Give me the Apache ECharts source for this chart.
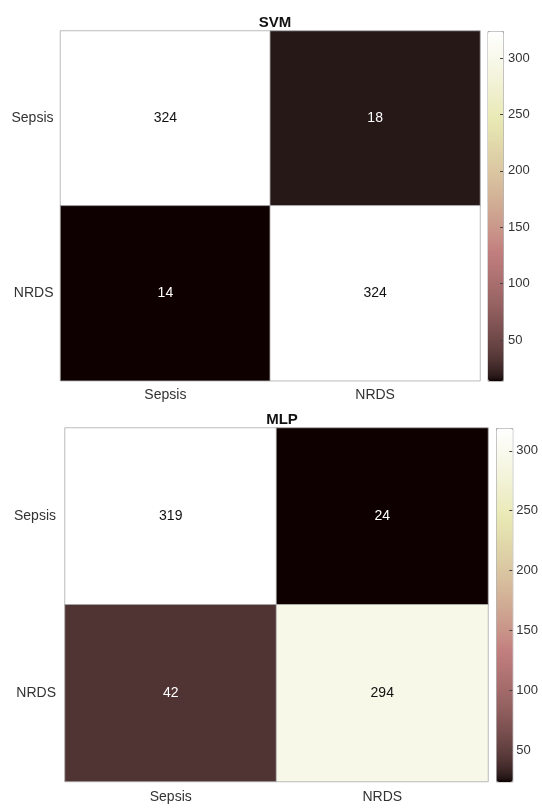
<!DOCTYPE html>
<html>
<head>
<meta charset="utf-8">
<script src="https://cdn.jsdelivr.net/npm/echarts@6/dist/echarts.min.js"></script>
<style>
html,body{margin:0;padding:0;background:#fff;}
#main{width:542px;height:808px;}
</style>
</head>
<body>
<div id="main"></div>
<script>
// ---- data ----
const categories = ['Sepsis', 'NRDS'];
const svmTitle = 'SVM';
const mlpTitle = 'MLP';
// rows = true class (Sepsis, NRDS), cols = predicted class (Sepsis, NRDS)
const svmRow1 = [324, 18];
const svmRow2 = [14, 324];
const mlpRow1 = [319, 24];
const mlpRow2 = [42, 294];
const svmRange = [14, 324];
const mlpRange = [24, 319];
const colorbarTicks = [50, 100, 150, 200, 250, 300];

// ---- MATLAB "pink" colormap ----
function pinkMap(m) {
  const n = Math.floor(3 / 8 * m);
  const out = [];
  for (let i = 0; i < m; i++) {
    const gray = i / (m - 1);
    const hr = i < n ? (i + 1) / n : 1;
    const hg = i < n ? 0 : (i < 2 * n ? (i - n + 1) / n : 1);
    const hb = i < 2 * n ? 0 : (i - 2 * n + 1) / (m - 2 * n);
    const f = v => Math.round(255 * Math.sqrt((2 * gray + v) / 3));
    out.push('rgb(' + f(hr) + ',' + f(hg) + ',' + f(hb) + ')');
  }
  return out;
}
const pink = pinkMap(256);

const FONT = 'Liberation Sans, Arial, Helvetica, sans-serif';

function buildData(rows, range) {
  const mid = (range[0] + range[1]) / 2;
  const data = [];
  rows.forEach((row, r) => {
    row.forEach((v, c) => {
      data.push({
        value: [c, r, v],
        label: { color: v < mid ? '#ffffff' : '#111111' }
      });
    });
  });
  return data;
}

const svmData = buildData([svmRow1, svmRow2], svmRange);
const mlpData = buildData([mlpRow1, mlpRow2], mlpRange);

const grids = [
  { left: 60.5, top: 31, width: 419.5, height: 349.7 },   // SVM heatmap
  { left: 65, top: 428, width: 423, height: 353.5 },      // MLP heatmap
  { left: 487.5, top: 31, width: 15.5, height: 349.7 },   // SVM colorbar
  { left: 496, top: 428, width: 16.3, height: 353.5 }     // MLP colorbar
];

function catX(gi, margin) {
  return {
    type: 'category', gridIndex: gi, data: categories,
    axisLine: { show: false }, axisTick: { show: false }, splitLine: { show: false },
    axisLabel: { fontFamily: FONT, fontSize: 14, color: '#333', margin: margin }
  };
}
function catY(gi, margin) {
  return {
    type: 'category', gridIndex: gi, data: categories, inverse: true,
    axisLine: { show: false }, axisTick: { show: false }, splitLine: { show: false },
    axisLabel: { fontFamily: FONT, fontSize: 14, color: '#333', margin: margin }
  };
}
function cbX(gi) {
  return { type: 'value', gridIndex: gi, show: false };
}
function cbY(gi, range, margin) {
  return {
    type: 'value', gridIndex: gi, min: range[0], max: range[1], position: 'right', z: 20,
    axisLine: { show: false, onZero: false }, splitLine: { show: false },
    axisTick: { show: true, inside: true, length: 3, customValues: colorbarTicks,
                lineStyle: { color: '#444', width: 1 } },
    axisLabel: { show: true, customValues: colorbarTicks, fontFamily: FONT, fontSize: 13,
                 color: '#333', margin: margin }
  };
}

const option = {
  backgroundColor: '#ffffff',
  animation: false,
  title: [
    { text: svmTitle, left: 270, top: 10, textAlign: 'center',
      textStyle: { fontFamily: FONT, fontSize: 15, fontWeight: 'bold', color: '#111' } },
    { text: mlpTitle, left: 277, top: 407, textAlign: 'center',
      textStyle: { fontFamily: FONT, fontSize: 15, fontWeight: 'bold', color: '#111' } }
  ],
  grid: grids,
  xAxis: [catX(0, 7), catX(1, 9), cbX(2), cbX(3)],
  yAxis: [catY(0, 7), catY(1, 9), cbY(2, svmRange, 5), cbY(3, mlpRange, 4)],
  visualMap: [
    { type: 'continuous', seriesIndex: 0, min: svmRange[0], max: svmRange[1],
      calculable: false, orient: 'vertical', left: 487.5, top: 31,
      itemWidth: 15.5, itemHeight: 349.7, padding: 0,
      borderColor: '#aaa', borderWidth: 1, text: null, showLabel: false,
      inRange: { color: pink } },
    { type: 'continuous', seriesIndex: 1, min: mlpRange[0], max: mlpRange[1],
      calculable: false, orient: 'vertical', left: 496, top: 428,
      itemWidth: 16.3, itemHeight: 353.5, padding: 0,
      borderColor: '#aaa', borderWidth: 1, text: null, showLabel: false,
      inRange: { color: pink } }
  ],
  series: [
    { type: 'heatmap', xAxisIndex: 0, yAxisIndex: 0, data: svmData,
      itemStyle: { borderColor: 'rgba(170,170,170,0.8)', borderWidth: 1 },
      label: { show: true, fontFamily: FONT, fontSize: 14 } },
    { type: 'heatmap', xAxisIndex: 1, yAxisIndex: 1, data: mlpData,
      itemStyle: { borderColor: 'rgba(170,170,170,0.8)', borderWidth: 1 },
      label: { show: true, fontFamily: FONT, fontSize: 14 } }
  ]
};

const chart = echarts.init(document.getElementById('main'), null, { renderer: 'canvas' });
chart.setOption(option);
</script>
</body>
</html>
